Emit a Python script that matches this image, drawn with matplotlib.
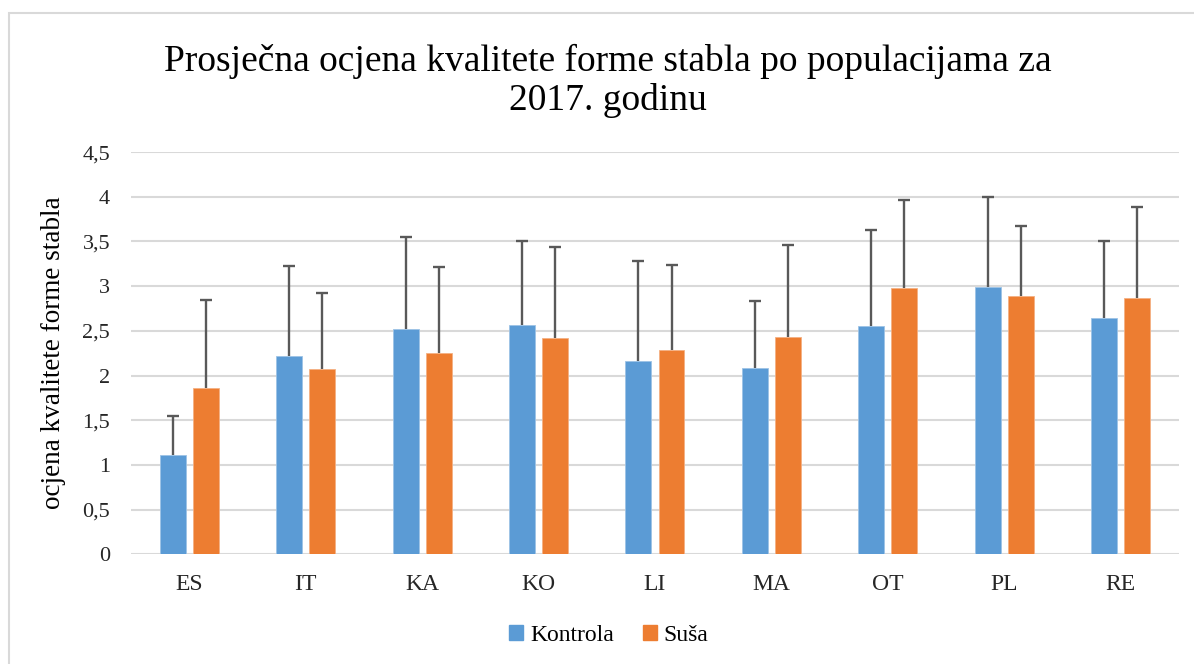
import numpy as np
import matplotlib.pyplot as plt
from matplotlib.patches import Patch, Rectangle

populacije = ['ES', 'IT', 'KA', 'KO', 'LI', 'MA', 'OT', 'PL', 'RE']
kontrola = [1.11, 2.22, 2.52, 2.56, 2.16, 2.08, 2.55, 2.99, 2.64]
kontrola_gornja = [1.55, 3.22, 3.55, 3.50, 3.28, 2.83, 3.63, 4.00, 3.51]
susa = [1.86, 2.07, 2.25, 2.42, 2.29, 2.43, 2.98, 2.89, 2.87]
susa_gornja = [2.85, 2.92, 3.21, 3.44, 3.24, 3.46, 3.96, 3.67, 3.88]
y_ticks = [0, 0.5, 1, 1.5, 2, 2.5, 3, 3.5, 4, 4.5]
y_tick_labels = ['0', '0,5', '1', '1,5', '2', '2,5', '3', '3,5', '4', '4,5']

plavo = '#5B9BD5'
narancasto = '#ED7D31'
siva_err = '#595959'

plt.rcParams['font.family'] = ['Liberation Serif', 'DejaVu Serif']

fig = plt.figure(figsize=(11.94, 6.64), dpi=100)
ax = fig.add_axes([0.1097, 0.1652, 0.8777, 0.6058])

x = np.arange(len(populacije))
w = 0.223
off = 0.142

ax.bar(x - off, kontrola, w, color=plavo, edgecolor='#9dc3e6', linewidth=0.6, zorder=2)
ax.bar(x + off, susa, w, color=narancasto, edgecolor='#f4b183', linewidth=0.6, zorder=2)

# samo gornji dio error bara (kao u Excelu)
for pos, sred, gor in [(x - off, kontrola, kontrola_gornja), (x + off, susa, susa_gornja)]:
    ax.vlines(pos, sred, gor, color=siva_err, linewidth=1.7, zorder=3)
    ax.plot(pos, gor, linestyle='none', marker='_', markersize=9, markeredgewidth=1.7,
            color=siva_err, zorder=3)

ax.set_xlim(-0.5, len(x) - 0.5)
ax.set_ylim(0, 4.5)
ax.set_yticks(y_ticks)
ax.set_yticklabels(y_tick_labels, fontsize=16, family='Liberation Serif')
ax.set_xticks(x)
ax.set_xticklabels(populacije, fontsize=17, family='Liberation Serif')
ax.tick_params(axis='y', length=0, pad=15, colors='#262626')
ax.tick_params(axis='x', length=0, pad=14, colors='#262626')
ax.grid(axis='y', color='#d9d9d9', linewidth=1.5, zorder=0)
ax.set_axisbelow(True)
for s in ax.spines.values():
    s.set_visible(False)

ax.set_ylabel('ocjena kvalitete forme stabla', fontsize=19.5, labelpad=12)

fig.text(0.509, 0.878, 'Prosječna ocjena kvalitete forme stabla po populacijama za\n2017. godinu',
         ha='center', va='center', fontsize=27, linespacing=1.15)

handles = [Patch(color=plavo, label='Kontrola'), Patch(color=narancasto, label='Suša')]
fig.legend(handles=handles, loc='center', bbox_to_anchor=(0.51, 0.043), ncol=2,
           frameon=False, prop={'family': 'Liberation Serif', 'size': 17},
           handlelength=0.6, handleheight=0.6, handletextpad=0.3, columnspacing=1.2)

# okvir grafikona
fig.patches.append(Rectangle((9 / 1194, -0.05), 1.05, 1 - 13 / 664 + 0.05,
                             transform=fig.transFigure, fill=False,
                             edgecolor='#d9d9d9', linewidth=1.5))

fig.savefig('out.png', dpi=100)
